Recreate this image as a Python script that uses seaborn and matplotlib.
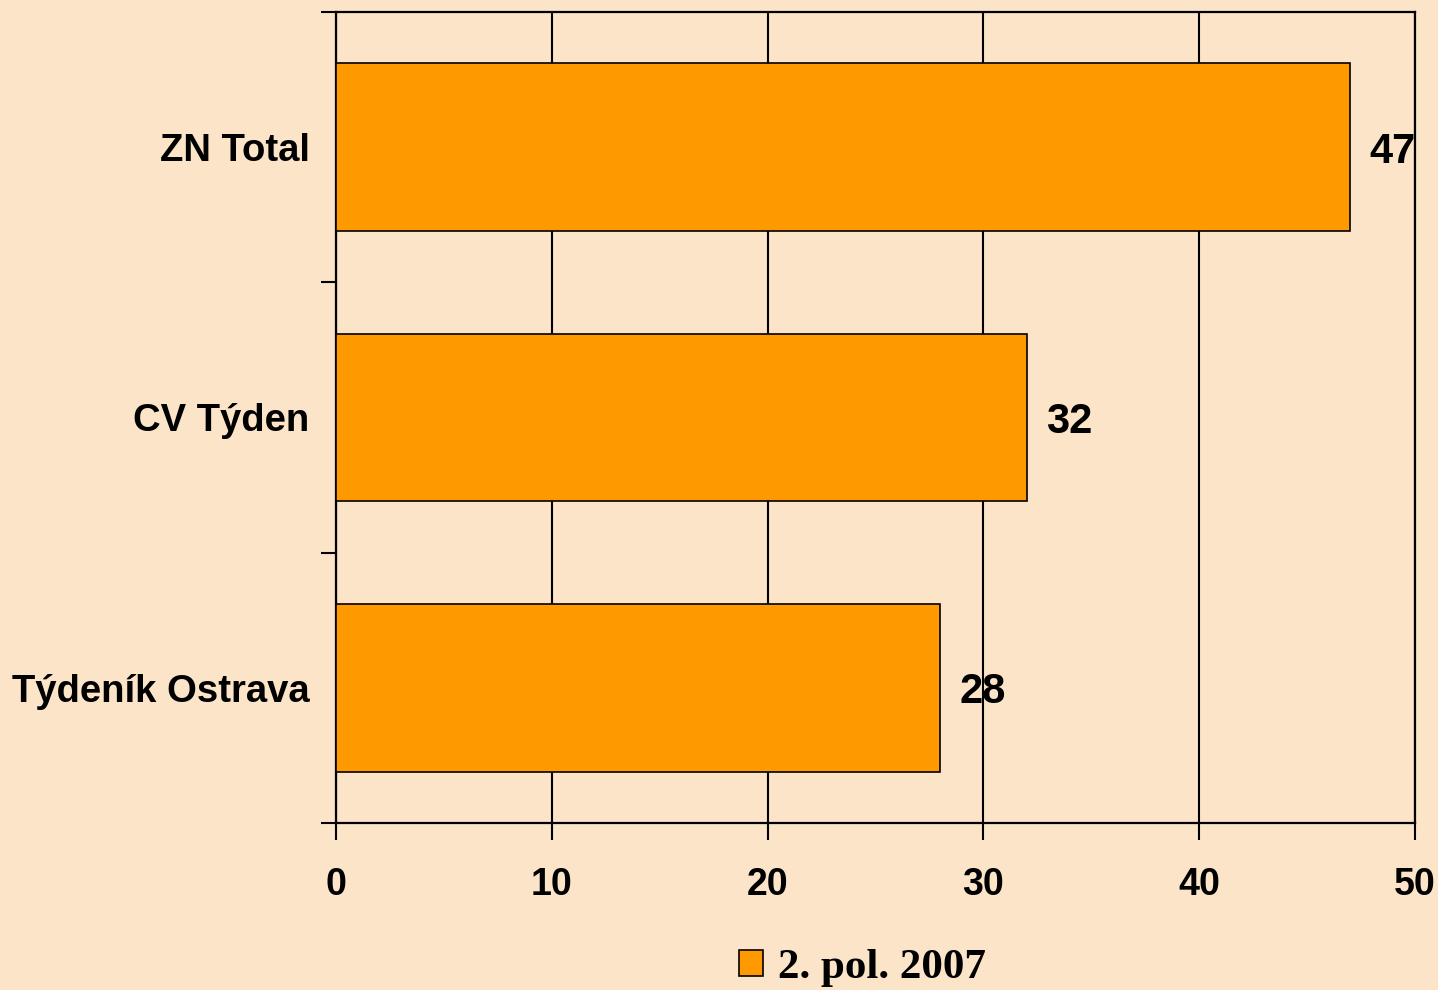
import numpy as np
import pandas as pd
import matplotlib
matplotlib.use("Agg")
import matplotlib.pyplot as plt
import seaborn as sns
from matplotlib.ticker import FixedLocator

papers = ["ZN Total", "CV Týden", "Týdeník Ostrava"]
readers = [47, 32, 28]
period = "2. pol. 2007"

BG = "#FCE4C8"
BAR = "#FF9900"

sns.set_theme(style="white")
plt.rcParams["font.family"] = ["Liberation Sans", "DejaVu Sans"]
plt.rcParams["text.color"] = "black"

df = pd.DataFrame({"paper": papers, "value": readers, "period": period})

fig = plt.figure(figsize=(14.38, 9.9), dpi=100, facecolor=BG)
ax = fig.add_axes([0.2337, 0.1687, 0.984 - 0.2337, 0.9879 - 0.1687])
ax.set_facecolor(BG)

sns.barplot(data=df, x="value", y="paper", hue="period", palette=[BAR],
            orient="h", width=0.62, edgecolor="black", linewidth=1.2,
            saturation=1, ax=ax, zorder=3)

ax.set_xlim(0, 50)
ax.set_ylim(2.5, -0.5)
ax.set_xticks(np.arange(0, 51, 10))
ax.xaxis.grid(True, color="black", linewidth=1.5)
ax.set_axisbelow(True)
for s in ax.spines.values():
    s.set_visible(True)
    s.set_color("black")
    s.set_linewidth(1.6)

ax.set_xlabel("")
ax.set_ylabel("")
ax.tick_params(axis="x", which="major", bottom=True, length=12, width=1.5,
               color="black", direction="out", pad=20, labelsize=27)
ax.tick_params(axis="y", which="major", length=0, pad=19, labelsize=27.5)
ax.yaxis.set_minor_locator(FixedLocator([-0.5, 0.5, 1.5, 2.5]))
ax.tick_params(axis="y", which="minor", length=11, width=1.5, color="black",
               direction="out", left=True)
for lab in ax.get_xticklabels() + ax.get_yticklabels():
    lab.set_fontweight("bold")
    lab.set_color("black")

for c in ax.containers:
    for t in ax.bar_label(c, fmt="%d", padding=14, fontsize=30,
                          fontweight="bold", color="black"):
        t.set_va("center_baseline")

handles, labels = ax.get_legend_handles_labels()
if ax.get_legend() is not None:
    ax.get_legend().remove()
fig.legend(handles, labels, loc="center", bbox_to_anchor=(0.6, 0.022),
           frameon=False, borderpad=0, handlelength=0.55, handleheight=0.55,
           handletextpad=0.35, labelcolor="black",
           prop={"family": ["Liberation Serif", "DejaVu Serif"], "weight": "bold", "size": 31})

fig.savefig("out.png", dpi=100, facecolor=BG)
